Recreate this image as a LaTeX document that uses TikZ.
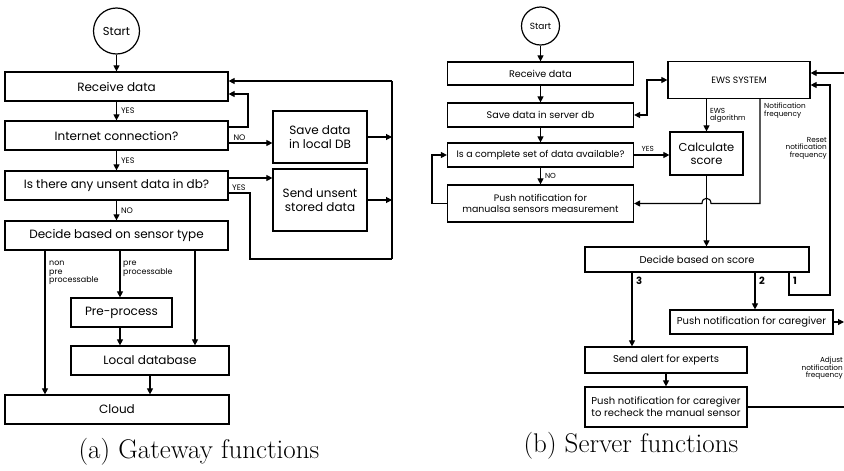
\documentclass[tikz,border=0pt]{standalone}
\usepackage{fontspec}
\newfontfamily\diag{Poppins}
\usetikzlibrary{arrows.meta}
\begin{document}
\begin{tikzpicture}[x=1pt,y=-1pt,
 boxL/.style={draw, line width=1.2pt, fill=white, inner sep=0pt, align=center, font=\diag\fontsize{12}{14}\selectfont},
 boxR/.style={draw, line width=1.2pt, fill=white, inner sep=0pt, align=center, font=\diag\fontsize{9.6}{11.5}\selectfont},
 boxRb/.style={boxR, font=\diag\fontsize{10}{12}\selectfont},
 circ/.style={draw, circle, line width=1.2pt, inner sep=0pt, fill=white},
 conn/.style={line width=1.1pt, -{Triangle[length=6pt,width=6pt]}},
 dconn/.style={line width=1.1pt, {Triangle[length=6pt,width=6pt]}-{Triangle[length=6pt,width=6pt]}},
 link/.style={line width=1.1pt},
 lblL/.style={font=\diag\fontsize{8}{8.5}\selectfont, inner sep=0pt, align=left},
 lblR/.style={font=\diag\fontsize{7.3}{7.6}\selectfont, inner sep=0pt},
 numR/.style={font=\diag\bfseries\fontsize{10}{11}\selectfont, inner sep=0pt},
 captxt/.style={font=\fontsize{27}{31}\selectfont, inner sep=0pt}]
\fill[white] (0,0) rectangle (844,471);
\useasboundingbox (0,0) rectangle (844,471);

% ---------------- left panel ----------------
\node[circ, minimum size=46, font=\diag\fontsize{11.5}{13}\selectfont] (startL) at (116.5,31) {Start};
\node[boxL, minimum width=223, minimum height=29] (recvL) at (116.5,86.5) {Receive data};
\node[boxL, minimum width=223, minimum height=29] (netL) at (116.5,135.5) {Internet connection?};
\node[boxL, minimum width=223, minimum height=29] (unsentL) at (116.5,185.5) {Is there any unsent data in db?};
\node[boxL, minimum width=223, minimum height=29] (decideL) at (116.5,235.5) {Decide based on sensor type};
\node[boxL, minimum width=101, minimum height=29] (preL) at (121.5,312.5) {Pre-process};
\node[boxL, minimum width=158, minimum height=29] (localL) at (150,360.5) {Local database};
\node[boxL, minimum width=224, minimum height=29] (cloudL) at (117,409.5) {Cloud};
\node[boxL, minimum width=94, minimum height=52] (saveL) at (320,137) {Save data\\in local DB};
\node[boxL, minimum width=94, minimum height=62] (sendL) at (320,200) {Send unsent\\stored data};

\coordinate (busT) at (392,81);
\coordinate (busB) at (392,259);
\coordinate (xa) at (45,0);
\coordinate (xb) at (120,0);
\coordinate (xc) at (195,0);
\coordinate (xd) at (150,0);

\draw[conn] (startL.south) -- (startL.south |- recvL.north);
\draw[conn] (recvL.south) -- (netL.north) node[lblL, midway, right=4pt] {YES};
\draw[conn] (netL.south) -- (unsentL.north) node[lblL, midway, right=4pt] {YES};
\draw[conn] (unsentL.south) -- (decideL.north) node[lblL, midway, right=4pt] {NO};

\draw[conn] ([yshift=8.5pt]netL.east) -| (248,94) -- ([yshift=-7.5pt]recvL.east);
\draw[link] (busB) -- (busT);
\draw[conn] (busT) -- ([yshift=5.5pt]recvL.east);
\coordinate (netNO) at ([yshift=-7.5pt]netL.east);
\draw[conn] (netNO) -- (netNO -| saveL.west) node[lblL, pos=0.1, anchor=south west, yshift=2pt] {NO};
\draw[conn] (saveL.east) -- (saveL.east -| busT);
\coordinate (unY) at ([yshift=7.5pt]unsentL.east);
\coordinate (unL) at ([yshift=-7.5pt]unsentL.east);
\draw[conn] (unY) -- (unY -| sendL.west);
\node[lblL, anchor=west] (yesU) at (232,187.5) {YES};
\draw[link] (unL) -| (250,259) -- (busB);
\draw[conn] (sendL.east) -- (sendL.east -| busT);

\draw[conn] (decideL.south -| xa) -- (cloudL.north -| xa);
\draw[conn] (decideL.south -| xb) -- (preL.north -| xb);
\draw[conn] (decideL.south -| xc) -- (localL.north -| xc);
\draw[conn] (preL.south -| xb) -- (localL.north -| xb);
\draw[conn] (localL.south -| xd) -- (cloudL.north -| xd);
\node[lblL, anchor=north west] (lnon) at (49,261) {non\\pre\\processable};
\node[lblL, anchor=north west] (lpre) at (123,261) {pre\\processable};

\node[captxt] (capA) at (199,452) {(a) Gateway functions};

% ---------------- right panel ----------------
\node[circ, minimum size=38, font=\diag\fontsize{9}{11}\selectfont] (startR) at (540.5,26) {Start};
\node[boxR, minimum width=186, minimum height=23] (recvR) at (540.5,73.5) {Receive data};
\node[boxR, minimum width=186, minimum height=24] (saveR) at (540.5,115) {Save data in server db};
\node[boxR, minimum width=186, minimum height=24, font=\diag\fontsize{9.4}{11}\selectfont] (compR) at (540.5,155) {Is a complete set of data available?};
\node[boxR, minimum width=186, minimum height=37, font=\diag\fontsize{9.4}{11.5}\selectfont] (pushR) at (540.5,203.5) {Push notification for\\manualsa sensors measurement};
\node[boxR, minimum width=142, minimum height=37, font=\diag\fontsize{9.2}{11}\selectfont] (ewsR) at (739,80) {EWS SYSTEM};
\node[boxR, minimum width=73, minimum height=43, font=\diag\fontsize{11.5}{13}\selectfont] (calcR) at (706.5,153.5) {Calculate\\score};
\node[boxRb, minimum width=224, minimum height=25] (decR) at (697,259.5) {Decide based on score};
\node[boxRb, minimum width=163, minimum height=24] (careR) at (751.5,322) {Push notification for caregiver};
\node[boxRb, minimum width=162, minimum height=26] (alertR) at (666,360) {Send alert for experts};
\node[boxRb, minimum width=162, minimum height=40] (recheckR) at (666,407) {Push notification for caregiver\\to recheck the manual sensor};

\coordinate (nf) at (760,0);
\coordinate (x3) at (632,0);
\coordinate (x2) at (755,0);
\coordinate (x1) at (789,0);
\coordinate (c1) at (789,295);
\coordinate (c1r) at (830,295);
\coordinate (c1t) at (830,85);
\coordinate (edgeT) at (844,73);
\coordinate (edgeC) at (844,322);
\coordinate (hopR) at (711,203.5);
\coordinate (hopL) at (702,203.5);
\coordinate (loopL) at (432,155);

\draw[conn] (startR.south) -- (startR.south |- recvR.north);
\draw[conn] (recvR.south) -- (saveR.north);
\draw[conn] (saveR.south) -- (compR.north);
\draw[conn] (compR.south) -- (pushR.north) node[lblR, midway, right=4pt] {NO};
\draw[conn] (compR.east) -- (compR.east -| calcR.west) node[lblR, pos=0.2, anchor=south west, yshift=3pt] {YES};
\draw[dconn] (saveR.east) -| (647,80) -- (ewsR.west);
\draw[conn] (pushR.west) -| (loopL) -- (compR.west);
\draw[conn] (ewsR.south -| calcR.north) -- (calcR.north) node[lblR, midway, right=3pt, align=left] {EWS\\algorithm};
\draw[conn] (ewsR.south -| nf) -- (nf |- pushR.east) -- (hopR) .. controls (711,196.5) and (702,196.5) .. (hopL) -- (pushR.east);
\node[lblR, anchor=north west, align=left] (lnf) at (764,103) {Notification\\frequency};
\draw[conn] (calcR.south) -- (calcR.south |- decR.north);
\draw[conn] (decR.south -| x3) -- (alertR.north -| x3);
\draw[conn] (decR.south -| x2) -- (careR.north -| x2);
\draw[conn] (decR.south -| x1) -- (c1) -- (c1r) -- (c1t) -- (c1t -| ewsR.east);
\node[numR, anchor=north west] (n3) at (636,277) {3};
\node[numR, anchor=north west] (n2) at (759,277) {2};
\node[numR, anchor=north west] (n1) at (793,277) {1};
\node[lblR, anchor=north east, align=right] (lreset) at (827,137) {Reset\\notification\\frequency};
\draw[conn] (edgeT) -- (edgeT -| ewsR.east);
\draw[conn] (careR.east) -- (edgeC);
\draw[conn] (alertR.south) -- (recheckR.north);
\draw[link] (recheckR.east) -- (recheckR.east -| edgeT);
\node[lblR, anchor=north east, align=right] (ladj) at (843,357) {Adjust\\notification\\frequency};

\node[captxt] (capB) at (631,446) {(b) Server functions};
\end{tikzpicture}
\end{document}
